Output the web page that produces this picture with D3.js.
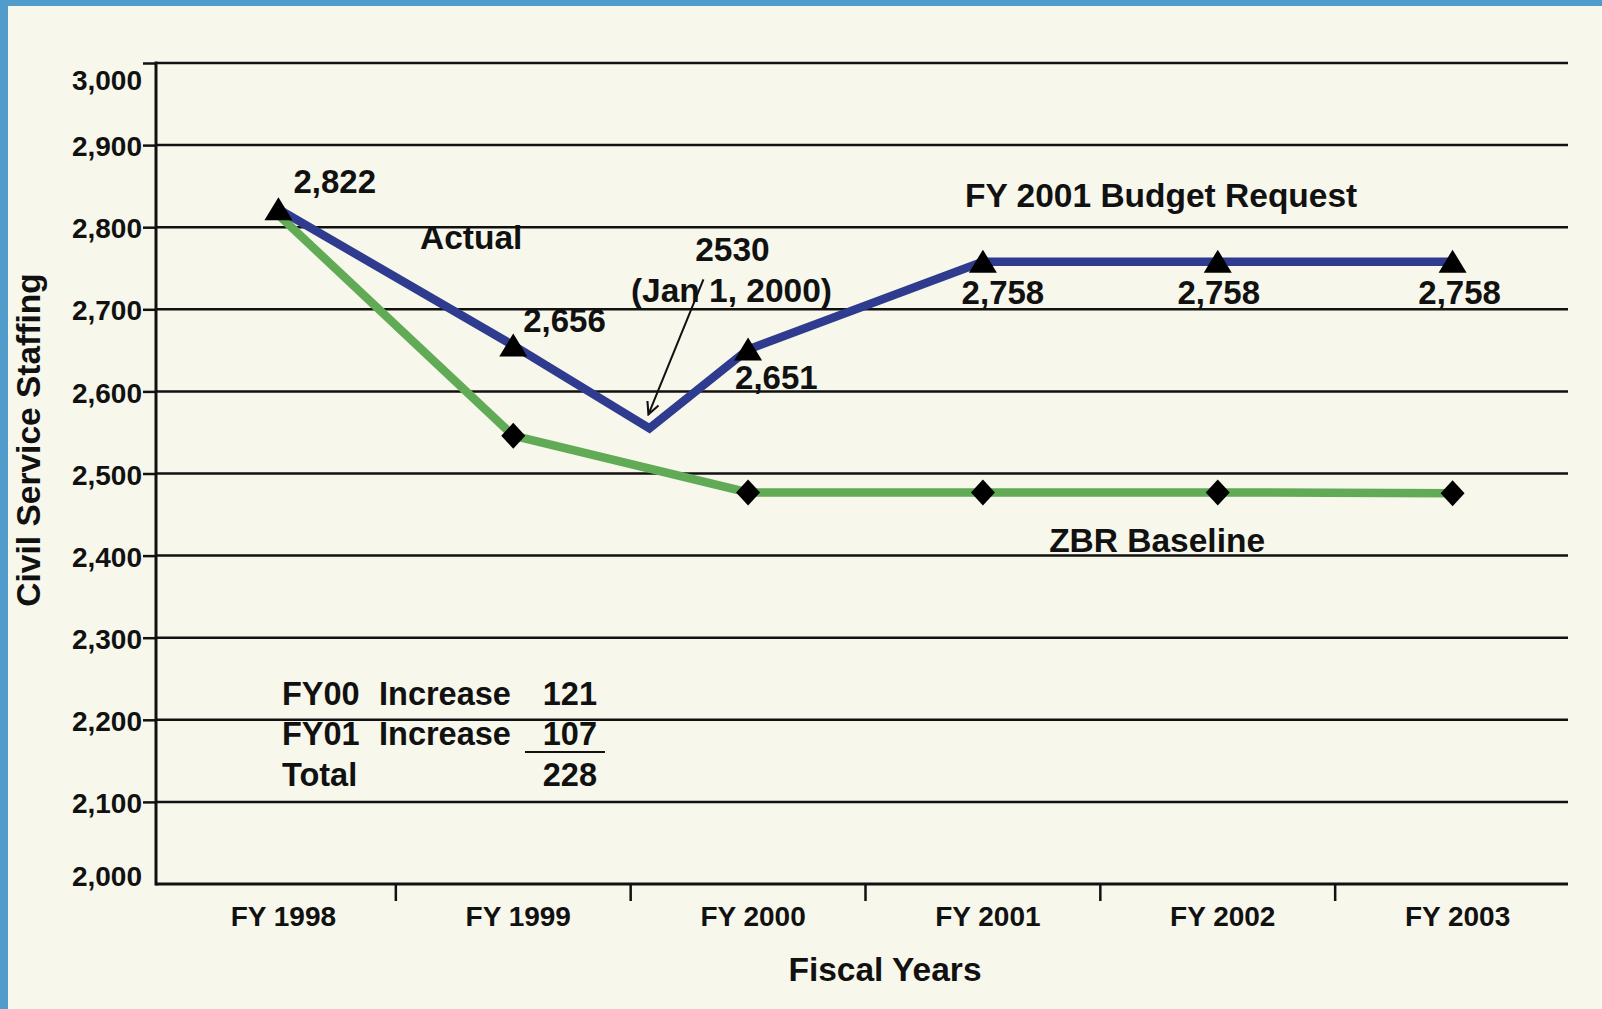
<!DOCTYPE html>
<html lang="en">
<head>
  <meta charset="UTF-8">
  <title>Civil Service Staffing</title>
  <script src="https://d3js.org/d3.v7.min.js"></script>
  <style>
    body { margin: 0; background: #f7f7eb; }
    svg { display: block; }
  </style>
</head>
<body>
<svg></svg>
<script>
  // data
  const categories = ['FY 1998', 'FY 1999', 'FY 2000', 'FY 2001', 'FY 2002', 'FY 2003']
  const yTicks = [2000, 2100, 2200, 2300, 2400, 2500, 2600, 2700, 2800, 2900, 3000]

  // budget request line (1.58 = Jan 1, 2000 reading between FY99 and FY00)
  const requestPos = [0, 1, 1.58, 2, 3, 4, 5]
  const requestValues = [2822, 2656, 2555, 2651, 2758, 2758, 2758]
  const requestMarker = [true, true, false, true, true, true, true]
  const requestLabels = ['2,822', '2,656', '', '2,651', '2,758', '2,758', '2,758']

  // ZBR baseline line
  const zbrPos = [0, 1, 2, 3, 4, 5]
  const zbrValues = [2815, 2546, 2477, 2477, 2477, 2476]
  const zbrMarker = [false, true, true, true, true, true]

  const tableRows = ['FY00', 'FY01', 'Total']
  const tableWords = ['Increase', 'Increase', '']
  const tableNums = ['121', '107', '228']

  const width = 1602, height = 1009
  const font = "'Liberation Sans', Arial, Helvetica, sans-serif"
  const noteSize = 33.5

  const svg = d3.select('svg')
      .attr('width', width)
      .attr('height', height)
      .attr('viewBox', [0, 0, width, height])
      .attr('font-family', font)
      .attr('font-weight', 'bold')

  // page background and blue frame (left + top)
  svg.append('rect').attr('width', width).attr('height', height).attr('fill', '#f7f7eb')
  svg.append('rect').attr('width', width).attr('height', 6).attr('fill', '#519ccb')
  svg.append('rect').attr('width', 8).attr('height', height).attr('fill', '#519ccb')

  const plotLeft = 156, plotRight = 1568

  // x: band per fiscal year, plus a linear index scale for in-between points
  const x = d3.scaleBand().domain(categories).range([161, 1570])
  const xi = d3.scaleLinear()
      .domain([0, categories.length - 1])
      .range([x(categories[0]) + x.bandwidth() / 2, x(categories[categories.length - 1]) + x.bandwidth() / 2])

  const y = d3.scaleLinear().domain([2000, 3000]).range([884, 63])

  // gridlines
  svg.append('g')
      .selectAll('line')
      .data(yTicks.slice(1))
      .join('line')
      .attr('x1', plotLeft)
      .attr('x2', plotRight)
      .attr('y1', d => y(d))
      .attr('y2', d => y(d))
      .attr('stroke', '#111')
      .attr('stroke-width', 2.5)

  // y axis
  const yAxis = svg.append('g')
      .attr('transform', `translate(${plotLeft},0)`)
      .call(d3.axisLeft(y).tickValues(yTicks).tickFormat(d3.format(',')).tickSize(13).tickPadding(1))
  yAxis.select('.domain').remove()
  yAxis.selectAll('.tick line').attr('stroke', '#111').attr('stroke-width', 2.5)
      .attr('x2', d => d === 2000 ? 0 : -13)
  yAxis.selectAll('.tick text')
      .attr('font-family', font)
      .attr('font-size', 28)
      .attr('font-weight', 'bold')
      .attr('fill', '#111')
      .attr('dy', d => d === 3000 ? '0.95em' : d === 2000 ? '0.05em' : '0.38em')
  svg.append('line')
      .attr('x1', plotLeft).attr('x2', plotLeft)
      .attr('y1', y(3000) - 1.5).attr('y2', y(2000) + 1.5)
      .attr('stroke', '#111').attr('stroke-width', 3)

  // x axis
  const xAxis = svg.append('g')
      .attr('transform', `translate(0,${y(2000)})`)
      .call(d3.axisBottom(x).tickSize(0).tickPadding(22))
  xAxis.select('.domain').remove()
  xAxis.selectAll('.tick text')
      .attr('font-family', font)
      .attr('font-size', 28)
      .attr('font-weight', 'bold')
      .attr('fill', '#111')
      .attr('dx', 5)
  svg.append('line')
      .attr('x1', plotLeft).attr('x2', plotRight)
      .attr('y1', y(2000)).attr('y2', y(2000))
      .attr('stroke', '#111').attr('stroke-width', 3)
  // boundary ticks between fiscal years
  svg.append('g')
      .selectAll('line')
      .data(categories.slice(1))
      .join('line')
      .attr('x1', d => x(d)).attr('x2', d => x(d))
      .attr('y1', y(2000)).attr('y2', y(2000) + 17)
      .attr('stroke', '#111').attr('stroke-width', 2.5)

  // axis titles
  svg.append('text')
      .attr('x', 885).attr('y', 981)
      .attr('text-anchor', 'middle')
      .attr('font-size', noteSize)
      .attr('fill', '#111')
      .text('Fiscal Years')
  svg.append('text')
      .attr('transform', 'translate(40,440) rotate(-90)')
      .attr('text-anchor', 'middle')
      .attr('font-size', noteSize)
      .attr('fill', '#111')
      .text('Civil Service Staffing')

  // lines
  const line = d3.line().x(d => xi(d[0])).y(d => y(d[1]))
  const zbr = zbrPos.map((p, i) => [p, zbrValues[i]])
  const request = requestPos.map((p, i) => [p, requestValues[i]])

  svg.append('path')
      .attr('d', line(zbr))
      .attr('fill', 'none')
      .attr('stroke', '#62ab56')
      .attr('stroke-width', 8.5)
      .attr('stroke-linejoin', 'miter')
  svg.append('path')
      .attr('d', line(request))
      .attr('fill', 'none')
      .attr('stroke', '#2e3b8f')
      .attr('stroke-width', 8.5)
      .attr('stroke-linejoin', 'miter')

  // markers
  svg.append('g')
      .selectAll('path')
      .data(zbr.filter((d, i) => zbrMarker[i]))
      .join('path')
      .attr('transform', d => `translate(${xi(d[0])},${y(d[1])})`)
      .attr('d', 'M0,-13L12,0L0,13L-12,0Z')
      .attr('fill', '#000')
  svg.append('g')
      .selectAll('path')
      .data(request.filter((d, i) => requestMarker[i]))
      .join('path')
      .attr('transform', d => `translate(${xi(d[0])},${y(d[1])})`)
      .attr('d', 'M0,-12L14,11L-14,11Z')
      .attr('fill', '#000')

  // point labels
  const labelOffsets = [[15, -16, 'start'], [10, -13, 'start'], null, [-13, 39, 'start'],
    [20, 42, 'middle'], [1, 42, 'middle'], [7, 42, 'middle']]
  svg.append('g')
      .selectAll('text')
      .data(request.map((d, i) => ({d, t: requestLabels[i], o: labelOffsets[i]})).filter(e => e.t))
      .join('text')
      .attr('x', e => xi(e.d[0]) + e.o[0])
      .attr('y', e => y(e.d[1]) + e.o[1])
      .attr('text-anchor', e => e.o[2])
      .attr('font-size', 33)
      .attr('fill', '#111')
      .text(e => e.t)

  // annotations
  const note = (tx, v, s, anchor) => svg.append('text')
      .attr('x', xi(tx)).attr('y', y(v))
      .attr('text-anchor', anchor || 'start')
      .attr('font-size', noteSize)
      .attr('fill', '#111')
      .text(s)
  note(0.603, 2773, 'Actual')
  note(2.924, 2824.5, 'FY 2001 Budget Request')
  note(3.282, 2404, 'ZBR Baseline')

  // Jan 1, 2000 callout with arrow
  const vx = xi(requestPos[2]), vy = y(requestValues[2])
  svg.append('text').attr('x', vx + 83).attr('y', vy - 167)
      .attr('text-anchor', 'middle').attr('font-size', noteSize).attr('fill', '#111').text('2530')
  svg.append('text').attr('x', vx + 82).attr('y', vy - 126)
      .attr('text-anchor', 'middle').attr('font-size', noteSize).attr('fill', '#111').text('(Jan 1, 2000)')
  svg.append('defs').append('marker')
      .attr('id', 'arrow')
      .attr('viewBox', '0 0 10 10')
      .attr('refX', 9).attr('refY', 5)
      .attr('markerWidth', 15).attr('markerHeight', 15)
      .attr('markerUnits', 'userSpaceOnUse')
      .attr('orient', 'auto')
      .append('path').attr('d', 'M1,1L9,5L1,9').attr('fill', 'none').attr('stroke', '#111').attr('stroke-width', 1.4)
  svg.append('line')
      .attr('x1', vx + 54).attr('y1', vy - 149)
      .attr('x2', vx - 1).attr('y2', vy - 14)
      .attr('stroke', '#111').attr('stroke-width', 2)
      .attr('marker-end', 'url(#arrow)')

  // increase table
  const rowY = [2218, 2169, 2119]
  const table = svg.append('g').attr('font-size', 32.5).attr('fill', '#111')
  tableRows.forEach((r, i) => {
    table.append('text').attr('x', 282).attr('y', y(rowY[i])).text(r)
    table.append('text').attr('x', 379).attr('y', y(rowY[i])).text(tableWords[i])
    table.append('text').attr('x', 597).attr('y', y(rowY[i])).attr('text-anchor', 'end').text(tableNums[i])
  })
  table.append('line')
      .attr('x1', 525).attr('x2', 605)
      .attr('y1', 752).attr('y2', 752)
      .attr('stroke', '#111').attr('stroke-width', 2)
</script>
</body>
</html>
